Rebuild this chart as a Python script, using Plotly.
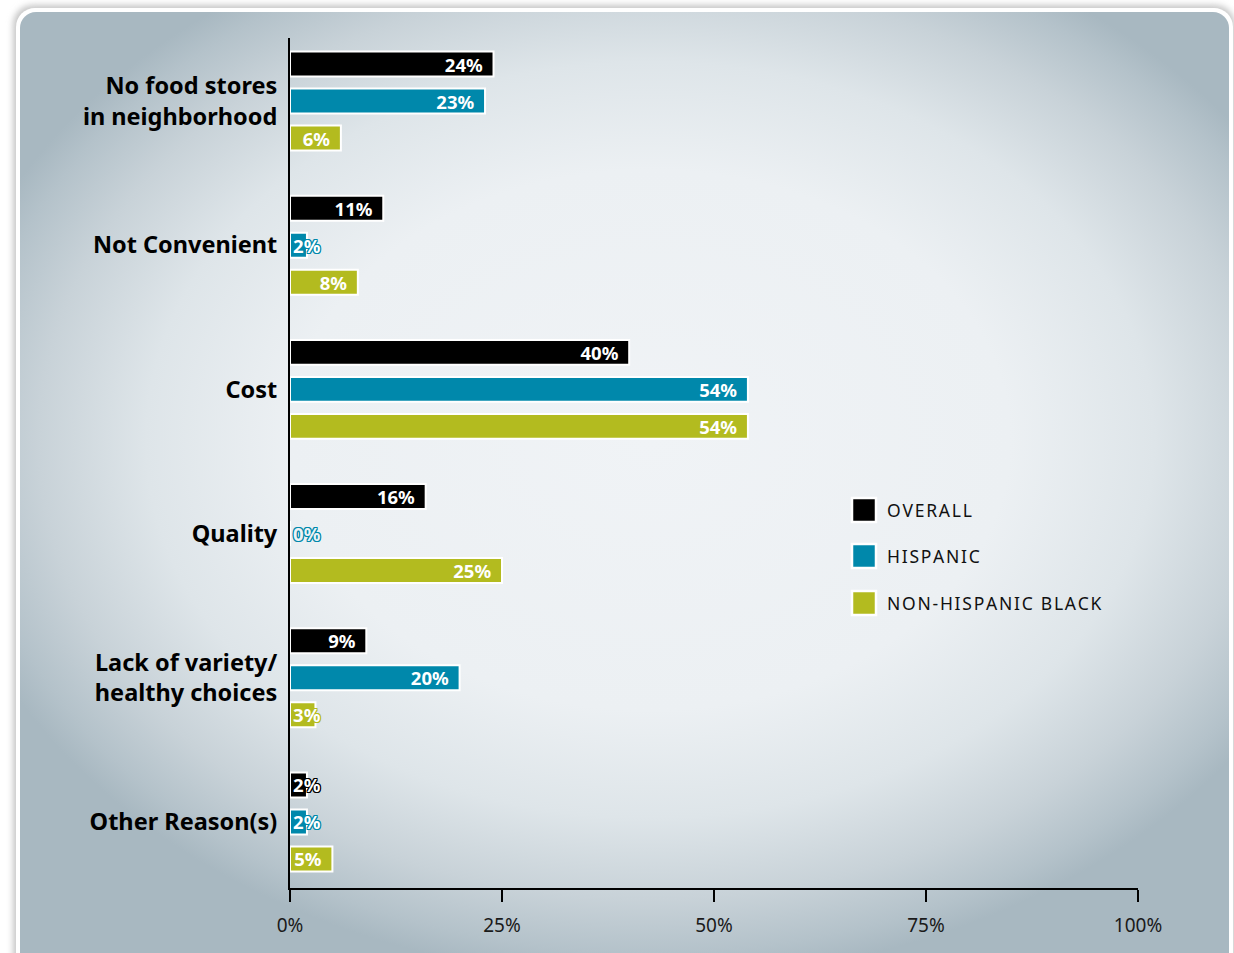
import base64
import plotly.graph_objects as go

# Survey results: reasons for not buying fresh food, by group (percent)
categories = [
    "No food stores<br>in neighborhood",
    "Not Convenient",
    "Cost",
    "Quality",
    "Lack of variety/<br>healthy choices",
    "Other Reason(s)",
]
overall = [24, 11, 40, 16, 9, 2]
hispanic = [23, 2, 54, 0, 20, 2]
nh_black = [6, 8, 54, 25, 3, 5]

series_names = ["OVERALL", "HISPANIC", "NON-HISPANIC BLACK"]
series_values = [overall, hispanic, nh_black]
series_colors = ["#000000", "#0088ab", "#b3bb1f"]

x_ticks = [0, 25, 50, 75, 100]
x_tick_labels = ["0%", "25%", "50%", "75%", "100%"]

FONT = "Noto Sans"
W, H = 1234, 953
ML, MR, MT, MB = 290, 96, 38, 65
PW, PH = W - ML - MR, H - MT - MB

SLOT = 0.2566     # vertical distance between bars of one group
BAR_W = 0.173     # bar thickness in category units
INSIDE_MIN = 5    # smaller values get their label written past the bar
LABEL_SIZE = 18.5


def px_x(px):
    return (px - ML) / PW


def px_y(py):
    return (H - MB - py) / PH


def outline(color, w=1):
    parts = []
    for dx in (-w, 0, w):
        for dy in (-w, 0, w):
            if dx or dy:
                parts.append(f"{dx}px {dy}px 0 {color}")
    return ", ".join(parts)


# Panel background: rounded card with a soft radial vignette
svg = f"""<svg xmlns="http://www.w3.org/2000/svg" width="{W}" height="{H}" viewBox="0 0 {W} {H}">
<defs>
<radialGradient id="g" gradientUnits="userSpaceOnUse" cx="0" cy="0" r="1"
 gradientTransform="translate(650 440) scale(720 540)">
<stop offset="0" stop-color="#f0f3f6"/>
<stop offset="0.5" stop-color="#ecf0f3"/>
<stop offset="0.7" stop-color="#dee5e9"/>
<stop offset="0.85" stop-color="#c8d2d8"/>
<stop offset="0.95" stop-color="#b4c2ca"/>
<stop offset="1" stop-color="#a8b8c1"/>
</radialGradient>
<filter id="s" x="-5%" y="-5%" width="110%" height="110%">
<feGaussianBlur stdDeviation="3"/>
</filter>
</defs>
<rect x="0" y="0" width="{W}" height="{H}" fill="#ffffff"/>
<rect x="13" y="5" width="1222" height="1000" rx="20" fill="#c6c6c6" filter="url(#s)"/>
<rect x="16" y="8" width="1217" height="1000" rx="19" fill="#ffffff"/>
<rect x="20" y="12" width="1209" height="1000" rx="16" fill="url(#g)"/>
</svg>"""
bg_uri = "data:image/svg+xml;base64," + base64.b64encode(svg.encode()).decode()

fig = go.Figure()

for k, (name, vals, col) in enumerate(zip(series_names, series_values, series_colors)):
    ypos = [i + (k - 1) * SLOT for i in range(len(categories))]
    fig.add_trace(go.Bar(
        name=name,
        orientation="h",
        x=vals,
        y=ypos,
        width=BAR_W,
        marker=dict(color=col, line=dict(color="#ffffff", width=2)),
        text=[f"{v}%\u00a0\u2009" if v >= INSIDE_MIN else "" for v in vals],
        textposition="inside",
        insidetextanchor="end",
        constraintext="none",
        textangle=0,
        textfont=dict(family=FONT, size=LABEL_SIZE, color="#ffffff", weight="bold"),
        hoverinfo="x+name",
        showlegend=False,
    ))
    # labels for the short bars, written from the axis outward with an outline
    small = [(v, y) for v, y in zip(vals, ypos) if v < INSIDE_MIN]
    if small:
        fill = ["#eef2f5" if v == 0 else "#ffffff" for v, _ in small]
        fig.add_trace(go.Scatter(
            x=[0] * len(small),
            y=[y + 0.02 for _, y in small],
            mode="text",
            text=[f"\u2009{v}%" for v, _ in small],
            textposition="middle right",
            textfont=dict(family=FONT, size=LABEL_SIZE, color=fill, weight="bold",
                          shadow=outline(col)),
            cliponaxis=False,
            hoverinfo="skip",
            showlegend=False,
        ))

# Legend drawn as swatches with labels
shapes = []
annotations = []
legend_y = [510, 556, 603]
for name, col, cy in zip(series_names, series_colors, legend_y):
    shapes.append(dict(
        type="rect", xref="paper", yref="paper",
        x0=px_x(852), x1=px_x(876), y0=px_y(cy + 12), y1=px_y(cy - 12),
        fillcolor=col, line=dict(color="#ffffff", width=2.5), layer="above",
    ))
    annotations.append(dict(
        xref="paper", yref="paper", x=px_x(885), y=px_y(cy),
        xanchor="left", yanchor="middle", showarrow=False,
        text="\u200a".join(name),
        font=dict(family=FONT, size=17.5, color="#111111"),
    ))

fig.update_layout(
    width=W, height=H,
    margin=dict(l=ML, r=MR, t=MT, b=MB, autoexpand=False),
    paper_bgcolor="#ffffff",
    plot_bgcolor="rgba(0,0,0,0)",
    barmode="overlay",
    showlegend=False,
    images=[dict(
        source=bg_uri, xref="paper", yref="paper",
        x=px_x(0), y=px_y(0), sizex=W / PW, sizey=H / PH,
        xanchor="left", yanchor="top", sizing="stretch", layer="below",
    )],
    shapes=shapes,
    annotations=annotations,
    xaxis=dict(
        range=[0, 100],
        tickvals=x_ticks, ticktext=x_tick_labels,
        ticks="outside", ticklen=12, tickwidth=2, tickcolor="#000000",
        ticklabelstandoff=7,
        showline=True, linecolor="#000000", linewidth=2,
        showgrid=False, zeroline=False,
        tickfont=dict(family=FONT, size=19, color="#1a1a1a"),
        fixedrange=True,
    ),
    yaxis=dict(
        range=[5.458, -0.437],
        tickvals=list(range(len(categories))), ticktext=categories,
        ticks="", ticklabelstandoff=6,
        showline=True, linecolor="#000000", linewidth=2,
        showgrid=False, zeroline=False,
        tickfont=dict(family=FONT, size=23.5, color="#000000", weight="bold"),
        fixedrange=True,
    ),
)

fig.write_html("out.html")
